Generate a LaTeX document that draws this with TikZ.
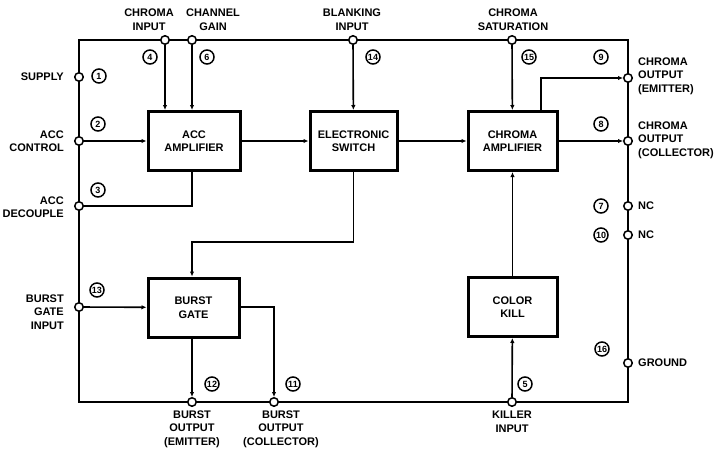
\documentclass[tikz,border=0pt]{standalone}
\usepackage{fontspec}
\setmainfont{Liberation Sans}
\usetikzlibrary{positioning,arrows.meta}

\begin{document}
\begin{tikzpicture}[
  x=1pt, y=-1pt,
  every node/.style={font=\bfseries\fontsize{11}{13.5}\selectfont, inner sep=0pt},
  block/.style={rectangle, draw=black, line width=3pt, minimum width=89pt,
                minimum height=59pt, align=center, fill=white},
  pin/.style={circle, draw=black, line width=1.5pt, fill=white, minimum size=8.5pt},
  pinno/.style={circle, draw=black, line width=1.5pt, minimum size=14pt,
                font=\bfseries\fontsize{9}{9}\selectfont},
  wire/.style={line width=1.6pt},
  flow/.style={wire, -{Latex[length=5pt,width=4.5pt]}}
]
\useasboundingbox (0,0) rectangle (715,452);
% Outer frame of the package
\coordinate (tl) at (79,40);
\coordinate (tr) at (628,40);
\coordinate (br) at (628,402);
\coordinate (bl) at (79,402);
\draw[wire, line width=1.8pt] (tl) -- (tr) -- (br) -- (bl) -- cycle;
% Pins on the frame
\node[pin] (p1)  at (79,77)   {};
\node[pin] (p2)  at (79,141)  {};
\node[pin] (p3)  at (79,206)  {};
\node[pin] (p13) at (79,307)  {};
\node[pin] (p4)  at (165,40)  {};
\node[pin] (p6)  at (192,40)  {};
\node[pin] (p14) at (353,40)  {};
\node[pin] (p15) at (512,40)  {};
\node[pin] (p9)  at (628,78)  {};
\node[pin] (p8)  at (628,141) {};
\node[pin] (p7)  at (628,206) {};
\node[pin] (p10) at (628,235) {};
\node[pin] (p16) at (628,363) {};
\node[pin] (p12) at (192,402) {};
\node[pin] (p11) at (274,402) {};
\node[pin] (p5)  at (512,402) {};
% Pin numbers
\foreach \n/\x/\y in {1/99/76, 2/98/124, 3/98/190, 13/97/290, 4/150/57, 6/207/57,
                      14/373/57, 15/529/57, 9/601/57, 8/601/124, 7/601/206,
                      10/601/235, 16/602/349, 12/212/384, 11/293/384, 5/525/384}
  \node[pinno] (n\n) at (\x,\y) {\n};
% Pin labels
\node[anchor=east]             (l1)  at (64,77)    {SUPPLY};
\node[anchor=east, align=right] (l2)  at (64,141)   {ACC\\CONTROL};
\node[anchor=east, align=right] (l3)  at (64,207)   {ACC\\DECOUPLE};
\node[anchor=east, align=right] (l13) at (64,312)   {BURST\\GATE\\INPUT};
\node[align=center]            (l4)  at (149,19.5) {CHROMA\\INPUT};
\node[align=center]            (l6)  at (213,19.5) {CHANNEL\\GAIN};
\node[align=center]            (l14) at (352,19.5) {BLANKING\\INPUT};
\node[align=center]            (l15) at (513,19.5) {CHROMA\\SATURATION};
\node[anchor=west, align=left] (l9)  at (638,76)   {CHROMA\\OUTPUT\\(EMITTER)};
\node[anchor=west, align=left] (l8)  at (638,140)  {CHROMA\\OUTPUT\\(COLLECTOR)};
\node[anchor=west]             (l7)  at (638,206)  {NC};
\node[anchor=west]             (l10) at (638,235)  {NC};
\node[anchor=west]             (l16) at (638,363)  {GROUND};
\node[align=center]            (l12) at (192,429)  {BURST\\OUTPUT\\(EMITTER)};
\node[align=center]            (l11) at (281,429)  {BURST\\OUTPUT\\(COLLECTOR)};
\node[align=center]            (l5)  at (512,422)  {KILLER\\INPUT};
% Function blocks
\node[block, minimum width=92pt] (acc) at (194,141)   {ACC\\AMPLIFIER};
\node[block, minimum width=87pt] (sw)  at (353.5,141) {ELECTRONIC\\SWITCH};
\node[block]                     (chr) at (512.5,141) {CHROMA\\AMPLIFIER};
\node[block, minimum width=91pt] (bg)  at (193.5,307.5) {BURST\\GATE};
\node[block]                     (ck)  at (512.5,307) {COLOR\\KILL};
% Signal paths
\draw[flow] (p4) -- (acc.north -| p4);
\draw[flow] (p6) -- (acc.north -| p6);
\draw[flow] (p2) -- (acc);
\draw[wire] (acc.south -| p6) |- (p3);
\draw[flow] (acc) -- (sw);
\draw[flow] (p14) -- (sw);
\draw[flow] (sw) -- (chr);
\draw[flow] (sw.south) |- (192,242) -- (bg.north -| p6);
\draw[flow] (p13) -- (bg);
\draw[flow] (bg.south -| p12) -- (p12);
\draw[flow] (bg.east |- p13) -| (p11);
\draw[flow] (p15) -- (chr);
\draw[flow] (chr.north -| 541,0) |- (p9);
\draw[flow] (chr) -- (p8);
\draw[flow] (ck) -- (chr);
\draw[flow] (p5) -- (ck);
\end{tikzpicture}
\end{document}
